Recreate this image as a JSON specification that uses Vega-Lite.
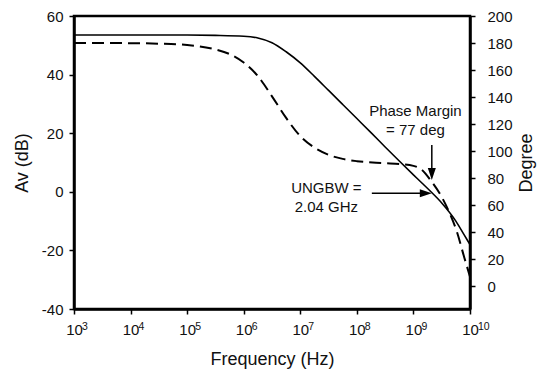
{
  "$schema": "https://vega.github.io/schema/vega-lite/v6.json",
  "width": 396,
  "height": 293,
  "autosize": {"type": "none"},
  "padding": {"left": 74, "top": 16, "right": 73, "bottom": 65},
  "background": "white",
  "config": {
    "font": "Liberation Sans",
    "view": {"stroke": "black", "strokeWidth": 2.5},
    "axis": {
      "grid": false,
      "domainColor": "black",
      "domainWidth": 2.5,
      "tickColor": "black",
      "tickWidth": 1.5,
      "tickSize": 5,
      "labelColor": "#111",
      "titleColor": "#111",
      "labelFontSize": 15,
      "titleFontSize": 18,
      "titleFontWeight": "normal",
      "labelFlush": false,
      "labelOverlap": false,
      "labelBound": false
    }
  },
  "datasets": {
    "mag": [
      {"f": 1000, "db": 53.5},
      {"f": 10000, "db": 53.5},
      {"f": 100000, "db": 53.5},
      {"f": 316228, "db": 53.4},
      {"f": 1000000, "db": 53.1},
      {"f": 1778279, "db": 52.5},
      {"f": 3162278, "db": 50.9},
      {"f": 5623413, "db": 47.8},
      {"f": 10000000, "db": 44.0},
      {"f": 17782794, "db": 39.4},
      {"f": 31622777, "db": 34.6},
      {"f": 56234133, "db": 29.8},
      {"f": 100000000, "db": 25.0},
      {"f": 177827941, "db": 20.2},
      {"f": 316227766, "db": 15.3},
      {"f": 562341325, "db": 10.5},
      {"f": 1000000000, "db": 5.8},
      {"f": 1412537545, "db": 3.0},
      {"f": 2040000000, "db": 0},
      {"f": 3162277660, "db": -3.8},
      {"f": 5623413252, "db": -10.0},
      {"f": 7943282347, "db": -14.8},
      {"f": 10000000000, "db": -18.0}
    ],
    "phase": [
      {"f": 1000, "deg": 180},
      {"f": 10000, "deg": 179.9},
      {"f": 31623, "deg": 179.5},
      {"f": 100000, "deg": 178.5},
      {"f": 316228, "deg": 175.2},
      {"f": 562341, "deg": 171.8},
      {"f": 1000000, "deg": 165.5},
      {"f": 1778279, "deg": 155.5},
      {"f": 3162278, "deg": 140.5},
      {"f": 5623413, "deg": 124.5},
      {"f": 10000000, "deg": 111},
      {"f": 17782794, "deg": 102.5},
      {"f": 31622777, "deg": 97.2},
      {"f": 56234133, "deg": 94.2},
      {"f": 100000000, "deg": 92.5},
      {"f": 316227766, "deg": 91},
      {"f": 562341325, "deg": 90.3},
      {"f": 1000000000, "deg": 89},
      {"f": 1412537545, "deg": 86},
      {"f": 2040000000, "deg": 78},
      {"f": 3162277660, "deg": 66},
      {"f": 4365158322, "deg": 54},
      {"f": 5888436554, "deg": 40},
      {"f": 7943282347, "deg": 21},
      {"f": 10000000000, "deg": 7}
    ],
    "vrule": [{"f": 2113000000, "db": 16.0, "db2": 6.8}],
    "hrule": [{"f": 184000000, "f2": 1406000000, "db": -0.5}],
    "heads": [
      {"f": 2113000000, "db": 6.1, "dir": "down"},
      {"f": 1656000000, "db": -0.5, "dir": "right"}
    ],
    "notes": [
      {"f": 1084000000, "db": 25.9, "text": "Phase Margin"},
      {"f": 1084000000, "db": 19.4, "text": "= 77 deg"},
      {"f": 28900000, "db": -0.3, "text": "UNGBW ="},
      {"f": 28900000, "db": -6.8, "text": "2.04 GHz"}
    ],
    "exps": [
      {"f": 1000, "db": -47.3, "e": "3"},
      {"f": 10000, "db": -47.3, "e": "4"},
      {"f": 100000, "db": -47.3, "e": "5"},
      {"f": 1000000, "db": -47.3, "e": "6"},
      {"f": 10000000, "db": -47.3, "e": "7"},
      {"f": 100000000, "db": -47.3, "e": "8"},
      {"f": 1000000000, "db": -47.3, "e": "9"},
      {"f": 10000000000, "db": -47.3, "e": "10"}
    ]
  },
  "encoding": {
    "x": {
      "field": "f", "type": "quantitative",
      "scale": {"type": "log", "domain": [1000, 10000000000], "nice": false},
      "axis": {
        "title": "Frequency (Hz)",
        "values": [1000, 10000, 100000, 1000000, 10000000, 100000000, 1000000000, 10000000000],
        "labelExpr": "'10'",
        "labelDx": -3,
        "labelPadding": 8,
        "titlePadding": 13
      }
    }
  },
  "layer": [
    {
      "encoding": {
        "y": {
          "field": "db", "type": "quantitative",
          "scale": {"domain": [-40, 60], "nice": false, "zero": false},
          "axis": {
            "title": "Av (dB)",
            "orient": "left",
            "values": [-40, -20, 0, 20, 40, 60],
            "labelExpr": "'' + datum.value",
            "labelPadding": 6,
            "titlePadding": 10
          }
        }
      },
      "layer": [
        {
          "data": {"name": "mag"},
          "mark": {"type": "line", "color": "black", "strokeWidth": 1.6, "interpolate": "monotone"}
        },
        {
          "data": {"name": "vrule"},
          "mark": {"type": "rule", "color": "black", "strokeWidth": 1.5},
          "encoding": {"y2": {"field": "db2"}}
        },
        {
          "data": {"name": "hrule"},
          "mark": {"type": "rule", "color": "black", "strokeWidth": 1.5},
          "encoding": {"x2": {"field": "f2"}}
        },
        {
          "data": {"name": "heads"},
          "mark": {"type": "point", "filled": true, "color": "black", "opacity": 1, "size": 144, "strokeWidth": 0},
          "encoding": {
            "shape": {
              "field": "dir", "type": "nominal", "legend": null,
              "scale": {"domain": ["down", "right"], "range": ["M-0.67,-1L0.67,-1L0,1Z", "M-1,-0.67L1,0L-1,0.67Z"]}
            }
          }
        },
        {
          "data": {"name": "notes"},
          "mark": {"type": "text", "align": "center", "baseline": "alphabetic", "fontSize": 15, "color": "#111"},
          "encoding": {"text": {"field": "text"}}
        },
        {
          "data": {"name": "exps"},
          "mark": {"type": "text", "align": "left", "baseline": "alphabetic", "fontSize": 10.5, "dx": 8, "color": "#111"},
          "encoding": {"text": {"field": "e"}}
        }
      ]
    },
    {
      "data": {"name": "phase"},
      "mark": {"type": "line", "color": "black", "strokeWidth": 2, "strokeDash": [12, 6], "interpolate": "monotone"},
      "encoding": {
        "y": {
          "field": "deg", "type": "quantitative",
          "scale": {"domain": [-17, 200], "nice": false, "zero": false},
          "axis": {
            "title": "Degree",
            "orient": "right",
            "values": [0, 20, 40, 60, 80, 100, 120, 140, 160, 180, 200],
            "labelPadding": 12,
            "titlePadding": 5,
            "titleAngle": -90,
            "titleBaseline": "top"
          }
        }
      }
    }
  ],
  "resolve": {"scale": {"y": "independent"}}
}
